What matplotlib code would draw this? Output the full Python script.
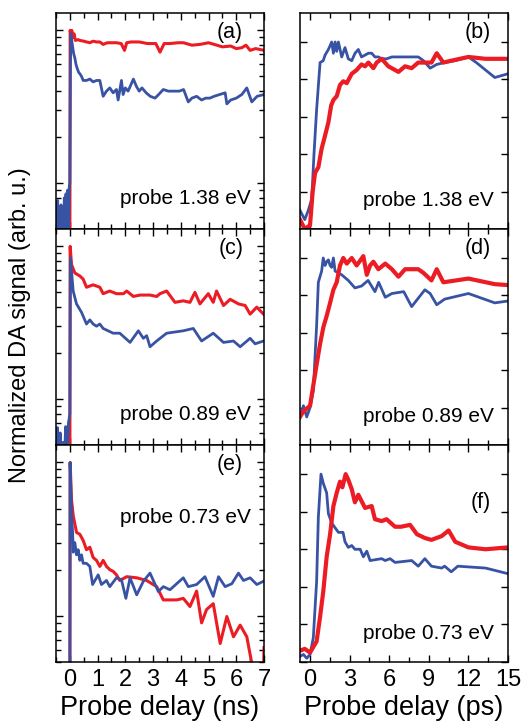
import matplotlib
matplotlib.use("Agg")
import matplotlib.pyplot as plt
from matplotlib.ticker import MultipleLocator, LogLocator, NullFormatter

plt.rcParams['font.family'] = ['Liberation Sans', 'DejaVu Sans']

RED = '#ec1c24'
BLUE = '#3953a4'

# ---- ns panels (log y) ----
a_blue_x = [-0.5, -0.47, -0.44, -0.41, -0.38, -0.35, -0.32, -0.29, -0.26, -0.23, -0.2, -0.17, -0.14, -0.11, -0.08, -0.05, -0.02,
	0.0, 0.02, 0.04, 0.07, 0.1, 0.14, 0.18, 0.22, 0.27, 0.32, 0.36, 0.42, 0.48, 0.6, 0.72, 0.84, 0.96, 1.08, 1.2, 1.32, 1.44,
	1.56, 1.68, 1.74, 1.86, 1.92, 2.0, 2.1, 2.2, 2.29, 2.4, 2.5, 2.6, 2.75, 2.9, 3.07, 3.2, 3.37, 3.55, 3.75, 3.95, 4.1, 4.27,
	4.4, 4.57, 4.75, 4.9, 5.05, 5.2, 5.4, 5.6, 5.66, 5.8, 6.0, 6.2, 6.38, 6.56, 6.75, 7.0]
a_blue_y = [0.075, 0.04, 0.077, 0.04, 0.07, 0.045, 0.072, 0.04, 0.065, 0.045, 0.08, 0.04, 0.085, 0.05, 0.09, 0.045, 0.095,
	0.1, 0.6, 0.95, 0.85, 0.78, 0.7, 0.66, 0.6, 0.56, 0.53, 0.52, 0.5, 0.47, 0.47, 0.48, 0.46, 0.47, 0.47, 0.37, 0.4, 0.42,
	0.39, 0.41, 0.35, 0.47, 0.38, 0.42, 0.4, 0.44, 0.48, 0.43, 0.4, 0.42, 0.39, 0.37, 0.36, 0.38, 0.41, 0.4, 0.4, 0.4, 0.41, 0.34,
	0.36, 0.37, 0.35, 0.36, 0.36, 0.37, 0.38, 0.39, 0.33, 0.35, 0.36, 0.38, 0.42, 0.34, 0.37, 0.38]
a_red_x = [0.0, 0.01, 0.04, 0.07, 0.1, 0.15, 0.2, 0.3, 0.36, 0.5, 0.6, 0.72, 0.84, 0.96, 1.08, 1.2, 1.35, 1.5, 1.68, 1.85,
	1.97, 2.05, 2.2, 2.5, 2.8, 3.1, 3.25, 3.4, 3.6, 3.9, 4.1, 4.4, 4.7, 5.0, 5.3, 5.5, 5.8, 6.0, 6.2, 6.35, 6.5, 6.7, 7.0]
a_red_y = [0.03, 1.0, 0.93, 1.0, 0.9, 0.95, 0.86, 0.87, 0.86, 0.85, 0.84, 0.83, 0.85, 0.84, 0.84, 0.81, 0.83, 0.83, 0.83, 0.82,
	0.74, 0.83, 0.84, 0.84, 0.82, 0.82, 0.72, 0.82, 0.82, 0.83, 0.83, 0.8, 0.81, 0.83, 0.8, 0.78, 0.79, 0.76, 0.77, 0.8, 0.74, 0.76, 0.74]

c_blue_x = [-0.5, -0.45, -0.4, -0.35, -0.3, -0.25, -0.2, -0.15, -0.1, -0.05, 0.0, 0.02, 0.12, 0.24, 0.42, 0.6, 0.72, 0.84,
	0.96, 1.08, 1.2, 1.38, 1.56, 1.8, 2.17, 2.47, 2.65, 2.77, 2.89, 3.13, 3.49, 4.09, 4.45, 4.75, 5.17, 5.54, 5.9, 6.14, 6.5, 6.68, 6.98]
c_blue_y = [0.04, 0.065, 0.04, 0.06, 0.04, 0.052, 0.04, 0.066, 0.045, 0.07, 0.08, 0.84, 0.51, 0.42, 0.37, 0.31, 0.33, 0.31,
	0.3, 0.31, 0.29, 0.28, 0.27, 0.27, 0.235, 0.28, 0.25, 0.26, 0.22, 0.24, 0.27, 0.28, 0.29, 0.24, 0.27, 0.235, 0.24, 0.22, 0.25, 0.23, 0.24]
c_red_x = [0.0, 0.01, 0.06, 0.18, 0.36, 0.48, 0.6, 0.72, 0.84, 0.96, 1.08, 1.2, 1.32, 1.44, 1.68, 1.93, 2.05, 2.29, 2.53,
	2.89, 3.13, 3.25, 3.49, 3.79, 4.09, 4.33, 4.51, 4.69, 4.99, 5.17, 5.29, 5.54, 5.78, 6.08, 6.32, 6.5, 6.74, 6.98]
c_red_y = [0.03, 1.0, 0.76, 0.67, 0.64, 0.61, 0.54, 0.55, 0.56, 0.55, 0.54, 0.49, 0.5, 0.51, 0.49, 0.49, 0.51, 0.47, 0.48,
	0.48, 0.47, 0.49, 0.51, 0.43, 0.44, 0.43, 0.5, 0.42, 0.49, 0.43, 0.51, 0.41, 0.45, 0.42, 0.41, 0.36, 0.4, 0.36]

e_blue_x = [0.0, 0.01, 0.06, 0.1, 0.12, 0.18, 0.24, 0.3, 0.36, 0.42, 0.48, 0.6, 0.72, 0.82, 1.02, 1.14, 1.32, 1.44, 1.68,
	1.86, 2.02, 2.17, 2.41, 2.65, 2.89, 3.19, 3.37, 3.61, 4.09, 4.27, 4.57, 4.87, 5.17, 5.36, 5.6, 5.84, 6.08, 6.26, 6.5, 6.74, 6.98]
e_blue_y = [0.03, 1.0, 0.45, 0.35, 0.26, 0.3, 0.25, 0.27, 0.23, 0.25, 0.22, 0.22, 0.21, 0.16, 0.185, 0.16, 0.17, 0.155, 0.177,
	0.172, 0.13, 0.177, 0.137, 0.168, 0.19, 0.144, 0.155, 0.148, 0.177, 0.155, 0.16, 0.18, 0.134, 0.18, 0.155, 0.162, 0.19, 0.17, 0.177, 0.16, 0.168]
e_red_x = [0.0, 0.01, 0.06, 0.12, 0.24, 0.36, 0.48, 0.6, 0.72, 0.84, 0.96, 1.08, 1.2, 1.32, 1.44, 1.56, 1.68, 1.8, 2.05,
	2.41, 2.77, 3.13, 3.37, 3.85, 4.09, 4.33, 4.57, 4.75, 4.93, 5.17, 5.42, 5.66, 5.9, 6.14, 6.38, 6.56, 6.65, 6.97, 7.0]
e_red_y = [0.03, 1.0, 0.57, 0.45, 0.35, 0.34, 0.31, 0.27, 0.28, 0.24, 0.23, 0.21, 0.23, 0.21, 0.2, 0.195, 0.185, 0.17, 0.18,
	0.177, 0.17, 0.155, 0.127, 0.127, 0.13, 0.115, 0.145, 0.09, 0.11, 0.12, 0.066, 0.099, 0.073, 0.087, 0.073, 0.049, 0.03, 0.03, 0.062]

# ---- ps panels (linear y) ----
b_blue_x = [-0.76, -0.4, -0.13, 0.13, 0.3, 0.5, 0.76, 1.0, 1.14, 1.39, 1.52, 1.64, 1.77, 1.9, 2.02, 2.15, 2.4, 2.65, 2.9,
	3.16, 3.41, 3.66, 3.9, 4.17, 4.42, 4.67, 4.92, 5.18, 5.43, 5.8, 6.2, 6.9, 7.5, 8.2, 8.6, 9.1, 9.6, 10.2, 11.0, 12.0, 12.6, 13.3, 14.0, 15.0]
b_blue_y = [0.1, 0.05, 0.1, 0.16, 0.4, 0.64, 0.89, 0.9, 0.93, 0.96, 0.98, 1.0, 0.94, 1.0, 0.95, 1.0, 0.92, 0.97, 0.91,
	0.9, 0.94, 0.96, 0.92, 0.93, 0.94, 0.94, 0.92, 0.92, 0.91, 0.91, 0.92, 0.92, 0.92, 0.92, 0.9, 0.86, 0.88, 0.89, 0.9, 0.92, 0.89, 0.85, 0.81, 0.83]
b_red_x = [-0.76, -0.4, 0.0, 0.2, 0.38, 0.63, 0.88, 1.14, 1.39, 1.6, 1.77, 2.02, 2.27, 2.52, 2.78, 3.16, 3.53, 3.9, 4.17,
	4.42, 4.8, 5.05, 5.43, 5.93, 6.7, 7.2, 7.7, 8.2, 9.2, 9.6, 10.1, 10.7, 12.0, 13.3, 15.0]
b_red_y = [0.05, 0.0, 0.02, 0.2, 0.3, 0.33, 0.43, 0.5, 0.57, 0.66, 0.69, 0.71, 0.77, 0.79, 0.78, 0.83, 0.85, 0.88, 0.87,
	0.89, 0.86, 0.89, 0.91, 0.87, 0.84, 0.87, 0.86, 0.89, 0.89, 0.94, 0.89, 0.9, 0.92, 0.91, 0.91]

d_blue_x = [-0.76, -0.5, -0.25, 0.0, 0.25, 0.5, 0.63, 0.88, 1.0, 1.14, 1.26, 1.39, 1.52, 1.64, 1.77, 1.9, 2.4, 2.9, 3.4,
	3.9, 4.4, 4.92, 5.2, 5.7, 6.2, 7.1, 7.7, 8.7, 9.1, 9.6, 10.2, 12.0, 14.0, 15.0]
d_blue_y = [0.15, 0.21, 0.15, 0.2, 0.29, 0.64, 0.87, 0.93, 1.0, 0.96, 0.98, 0.99, 0.96, 0.95, 1.0, 0.93, 0.91, 0.88, 0.84,
	0.85, 0.88, 0.82, 0.87, 0.79, 0.81, 0.82, 0.74, 0.83, 0.81, 0.75, 0.78, 0.81, 0.76, 0.77]
d_red_x = [-0.76, -0.5, 0.0, 0.25, 0.5, 0.76, 1.01, 1.26, 1.52, 1.77, 2.02, 2.27, 2.52, 2.78, 3.16, 3.53, 4.04, 4.3, 4.55,
	4.8, 5.18, 5.7, 6.2, 6.7, 7.2, 8.2, 8.6, 9.2, 9.6, 10.1, 12.0, 14.0, 15.0]
d_red_y = [0.15, 0.18, 0.21, 0.32, 0.43, 0.54, 0.63, 0.69, 0.76, 0.83, 0.87, 0.96, 1.0, 0.97, 1.0, 0.96, 1.01, 0.91, 0.96,
	0.98, 0.94, 0.97, 0.94, 0.9, 0.94, 0.94, 0.92, 0.88, 0.94, 0.87, 0.89, 0.86, 0.855]

f_blue_x = [-0.76, -0.5, -0.25, 0.0, 0.25, 0.5, 0.63, 0.83, 1.01, 1.26, 1.39, 1.64, 2.15, 2.5, 2.65, 2.9, 3.16, 3.4, 3.8,
	4.04, 4.3, 4.55, 5.43, 5.7, 6.06, 6.44, 7.7, 8.2, 8.7, 9.2, 9.97, 10.2, 10.7, 11.2, 13.3, 15.0]
f_blue_y = [0.03, 0.04, 0.02, 0.04, 0.13, 0.43, 0.77, 1.0, 0.95, 0.9, 0.79, 0.74, 0.69, 0.69, 0.64, 0.61, 0.62, 0.6, 0.6,
	0.56, 0.59, 0.54, 0.55, 0.54, 0.55, 0.53, 0.54, 0.51, 0.55, 0.51, 0.5, 0.51, 0.48, 0.51, 0.5, 0.47]
f_red_x = [-0.76, -0.4, 0.0, 0.25, 0.5, 0.76, 1.01, 1.26, 1.52, 1.77, 2.02, 2.27, 2.45, 2.7, 2.9, 3.16, 3.4, 3.66, 4.17,
	4.67, 4.92, 5.43, 5.8, 6.44, 6.9, 7.58, 8.1, 8.7, 9.2, 9.97, 10.5, 11.0, 12.0, 13.3, 15.0]
f_red_y = [0.06, 0.07, 0.05, 0.08, 0.11, 0.24, 0.38, 0.56, 0.68, 0.83, 0.9, 0.96, 0.93, 1.0, 0.97, 0.92, 0.85, 0.89, 0.82,
	0.83, 0.76, 0.75, 0.76, 0.72, 0.72, 0.73, 0.68, 0.66, 0.65, 0.67, 0.7, 0.64, 0.61, 0.6, 0.61]

probe_labels = ['probe 1.38 eV', 'probe 0.89 eV', 'probe 0.73 eV']
panel_letters = ['(a)', '(b)', '(c)', '(d)', '(e)', '(f)']

W, H = 530, 725
fig = plt.figure(figsize=(W / 100, H / 100), dpi=100)

rows = [(13, 229), (229, 445), (445, 662)]
cols = [(56, 264), (300, 508)]

def make_ax(r, c):
	top, bot = rows[r]
	left, right = cols[c]
	return fig.add_axes([left / W, 1 - bot / H, (right - left) / W, (bot - top) / H])

def style(ax, bottom_labels):
	ax.tick_params(which='both', direction='in', top=True, right=True, width=1.0)
	ax.tick_params(which='major', length=5)
	ax.tick_params(which='minor', length=3.5)
	ax.tick_params(axis='x', labelsize=17, pad=5, labelbottom=bottom_labels)
	ax.tick_params(axis='y', labelleft=False)
	for s in ax.spines.values():
		s.set_linewidth(1.1)

ns_data = [(a_blue_x, a_blue_y, a_red_x, a_red_y),
	(c_blue_x, c_blue_y, c_red_x, c_red_y),
	(e_blue_x, e_blue_y, e_red_x, e_red_y)]
ps_data = [(b_blue_x, b_blue_y, b_red_x, b_red_y),
	(d_blue_x, d_blue_y, d_red_x, d_red_y),
	(f_blue_x, f_blue_y, f_red_x, f_red_y)]

for r in range(3):
	last = r == 2
	# left: ns scale, log y
	ax = make_ax(r, 0)
	bx, by, rx, ry = ns_data[r]
	ax.plot(rx, ry, color=RED, lw=2.2)
	ax.plot(bx, by, color=BLUE, lw=2.0)
	ax.set_yscale('log')
	ax.set_ylim(0.05, 1.3)
	ax.set_xlim(-0.5, 7)
	ax.xaxis.set_major_locator(MultipleLocator(1))
	ax.xaxis.set_minor_locator(MultipleLocator(0.5))
	ax.yaxis.set_major_locator(LogLocator(base=10))
	ax.yaxis.set_minor_locator(LogLocator(base=10, subs=range(2, 10)))
	ax.yaxis.set_minor_formatter(NullFormatter())
	style(ax, last)
	ax.text(0.9, 0.91, panel_letters[2 * r], transform=ax.transAxes, ha='right', va='center', fontsize=15.5)
	if r == 2:
		ax.text(0.935, 0.667, probe_labels[r], transform=ax.transAxes, ha='right', va='center', fontsize=15)
		ax.set_xlabel('Probe delay (ns)', fontsize=19.5, labelpad=3)
	else:
		ax.text(0.935, 0.14, probe_labels[r], transform=ax.transAxes, ha='right', va='center', fontsize=15)

	# right: ps scale, linear y
	ax = make_ax(r, 1)
	bx, by, rx, ry = ps_data[r]
	ax.plot(bx, by, color=BLUE, lw=2.0)
	ax.plot(rx, ry, color=RED, lw=3.0)
	ax.set_ylim(0, 1.155)
	ax.set_xlim(-0.76, 15)
	ax.xaxis.set_major_locator(MultipleLocator(3))
	ax.xaxis.set_minor_locator(MultipleLocator(1.5))
	ax.yaxis.set_major_locator(MultipleLocator(0.2))
	style(ax, last)
	if r == 2:
		ax.text(0.92, 0.735, panel_letters[2 * r + 1], transform=ax.transAxes, ha='right', va='center', fontsize=15.5)
		ax.set_xlabel('Probe delay (ps)', fontsize=19.5, labelpad=3)
	else:
		ax.text(0.92, 0.91, panel_letters[2 * r + 1], transform=ax.transAxes, ha='right', va='center', fontsize=15.5)
	ax.text(0.93, 0.13, probe_labels[r], transform=ax.transAxes, ha='right', va='center', fontsize=15)

fig.text(20 / W, 1 - 325 / H, 'Normalized DA signal (arb. u.)', rotation=90, ha='center', va='center', fontsize=17)

fig.savefig('out.png', dpi=100)
